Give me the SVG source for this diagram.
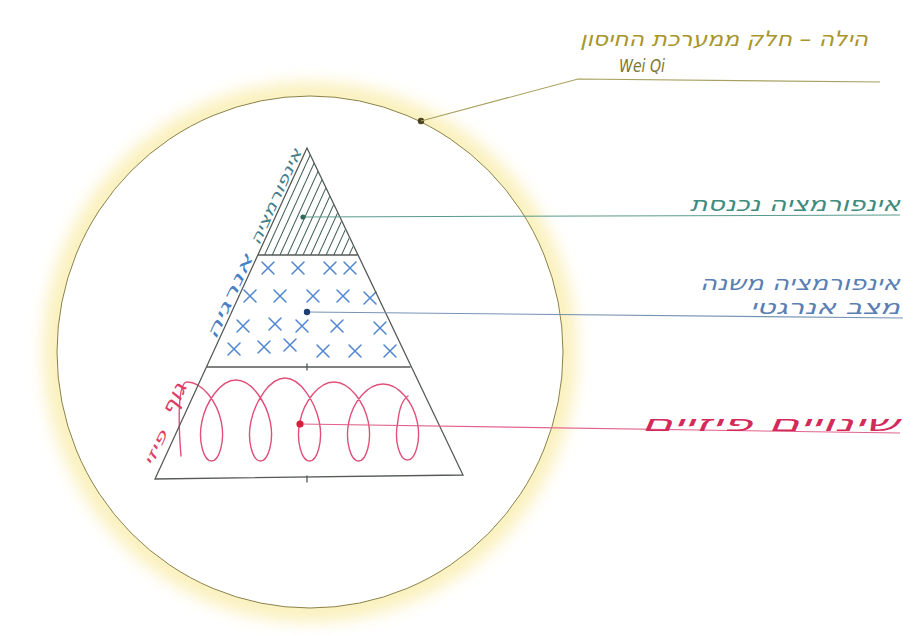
<svg xmlns="http://www.w3.org/2000/svg" width="903" height="635" viewBox="0 0 903 635">
  <style>
    .hand { font-family: "DejaVu Sans", "Liberation Sans", sans-serif; font-style: italic; }
    .edge { fill: none; stroke: #555a55; stroke-width: 1.3; stroke-linecap: round; }
    .lead { fill: none; stroke-width: 1.1; }
    .xm { fill: none; stroke: #4f86cf; stroke-width: 1.5; stroke-linecap: round; }
  </style>
  <defs>
    <filter id="blur" x="-20%" y="-20%" width="140%" height="140%">
      <feGaussianBlur stdDeviation="9"/>
    </filter>
    <pattern id="hatch" width="7" height="10" patternUnits="userSpaceOnUse" patternTransform="rotate(24.5)">
      <line x1="3.5" y1="0" x2="3.5" y2="10" stroke="#3d5c55" stroke-width="1"/>
    </pattern>
    <path id="x" d="M-6,-6 L6,6 M6,-6 L-6,6"/>
  </defs>
  <rect width="903" height="635" fill="#ffffff"/>

  <g id="aura">
    <ellipse cx="310" cy="352" rx="255" ry="258" fill="none" stroke="#f6e27a" stroke-width="20" opacity="0.6" filter="url(#blur)"/>
    <ellipse cx="310" cy="352" rx="253" ry="256" fill="#ffffff" stroke="#8c8246" stroke-width="1"/>
    <circle cx="421" cy="121" r="3.2" fill="#4a4220"/>
  </g>

  <g id="pyramid">
    <g id="layer-info">
      <polygon points="307,148 258,255 357,255" fill="url(#hatch)"/>
    </g>
    <g id="layer-energy">
      <use href="#x" class="xm" x="268" y="268"/>
      <use href="#x" class="xm" x="298" y="268"/>
      <use href="#x" class="xm" x="330" y="268"/>
      <use href="#x" class="xm" x="350" y="268"/>
      <use href="#x" class="xm" x="250" y="296"/>
      <use href="#x" class="xm" x="280" y="296"/>
      <use href="#x" class="xm" x="313" y="296"/>
      <use href="#x" class="xm" x="343" y="296"/>
      <use href="#x" class="xm" x="370" y="298"/>
      <use href="#x" class="xm" x="243" y="326"/>
      <use href="#x" class="xm" x="275" y="324"/>
      <use href="#x" class="xm" x="302" y="326"/>
      <use href="#x" class="xm" x="337" y="326"/>
      <use href="#x" class="xm" x="380" y="328"/>
      <use href="#x" class="xm" x="234" y="349"/>
      <use href="#x" class="xm" x="264" y="347"/>
      <use href="#x" class="xm" x="290" y="345"/>
      <use href="#x" class="xm" x="323" y="351"/>
      <use href="#x" class="xm" x="355" y="351"/>
      <use href="#x" class="xm" x="390" y="351"/>
    </g>
    <g id="layer-physical">
      <path fill="none" stroke="#e0507a" stroke-width="1.4" stroke-linecap="round" d="M181,456 C178,420 178,382 187,382 C202.6,382 217.2,402.1 221.3,422 C225.3,441.9 218.9,461 211.5,461 C204.1,461 197.7,441.9 201.8,422 C205.8,402.1 220.4,380 236,380 C251.6,380 266.2,402.1 270.3,422 C274.3,441.9 267.9,461 260.5,461 C253.1,461 246.7,441.9 250.8,422 C254.8,402.1 269.4,378 285,378 C300.6,378 315.2,402.1 319.3,422 C323.3,441.9 316.9,461 309.5,461 C302.1,461 295.7,441.9 299.8,422 C303.8,402.1 318.4,382 334,382 C349.6,382 364.2,402.1 368.3,422 C372.3,441.9 365.9,461 358.5,461 C351.1,461 344.7,441.9 348.8,422 C352.8,402.1 367.4,384 383,384 C398.6,384 413.2,402.1 417.3,422 C421.3,441.9 414.9,460 407.5,460 C400.1,460 393.7,441.9 397.8,422 C399,410 402,400 408,396"/>
    </g>
    <path class="edge" d="M307,148 L155,479 L463,475 Z M258,255 L357,255 M207,367 L410,367"/>
    <path class="edge" d="M307,364 L307,370 M307,476 L307,482" stroke-width="1"/>
    <g id="side-labels" class="hand">
      <text x="280.5" y="198.8" font-size="15" fill="#3f7f8c" text-anchor="middle" textLength="104" lengthAdjust="spacingAndGlyphs" transform="rotate(-65.5 280.5 198.8)">אינפורמציה</text>
      <text x="234.5" y="299" font-size="16" fill="#4a80c0" text-anchor="middle" textLength="92" lengthAdjust="spacingAndGlyphs" transform="rotate(-65.5 234.5 299)">אנרגיה</text>
      <text x="180" y="402" font-size="20" fill="#dc4064" text-anchor="middle" textLength="34" lengthAdjust="spacingAndGlyphs" transform="rotate(-65.5 180 402)">גוף</text>
      <text x="160" y="450" font-size="14" fill="#dc4064" text-anchor="middle" textLength="38" lengthAdjust="spacingAndGlyphs" transform="rotate(-65.5 160 450)">פיזי</text>
    </g>
  </g>

  <g id="connectors">
    <polyline class="lead" points="421,121 578,79 880,82" stroke="#a8a060"/>
    <line class="lead" x1="303" y1="217" x2="900" y2="215" stroke="#5a9a8c"/>
    <line class="lead" x1="307" y1="312" x2="903" y2="318" stroke="#7894b4"/>
    <line class="lead" x1="300" y1="424" x2="900" y2="433" stroke="#e2648a"/>
    <circle cx="303" cy="217" r="2.6" fill="#2f6a5c"/>
    <circle cx="307" cy="312" r="3.2" fill="#1f3f70"/>
    <circle cx="300" cy="424" r="3.6" fill="#d81e3c"/>
  </g>

  <g id="label-aura" class="hand">
    <text x="724" y="46" font-size="21" fill="#a8962a" text-anchor="middle" textLength="288" lengthAdjust="spacingAndGlyphs">הילה – חלק ממערכת החיסון</text>
    <text x="642" y="72" font-size="18" fill="#7e7630" text-anchor="middle" textLength="46" lengthAdjust="spacingAndGlyphs">Wei Qi</text>
  </g>
  <g id="label-info" class="hand">
    <text x="795" y="211" font-size="21" fill="#3e8c7e" text-anchor="middle" textLength="210" lengthAdjust="spacingAndGlyphs">אינפורמציה נכנסת</text>
  </g>
  <g id="label-energy" class="hand">
    <text x="800" y="290" font-size="20" fill="#5a7fb5" text-anchor="middle" textLength="200" lengthAdjust="spacingAndGlyphs">אינפורמציה משנה</text>
    <text x="825" y="314" font-size="20" fill="#5a7fb5" text-anchor="middle" textLength="150" lengthAdjust="spacingAndGlyphs">מצב אנרגטי</text>
  </g>
  <g id="label-physical" class="hand">
    <text x="770" y="431" font-size="22" fill="#d42a5a" text-anchor="middle" textLength="258" lengthAdjust="spacingAndGlyphs">שינויים פיזיים</text>
  </g>
</svg>
